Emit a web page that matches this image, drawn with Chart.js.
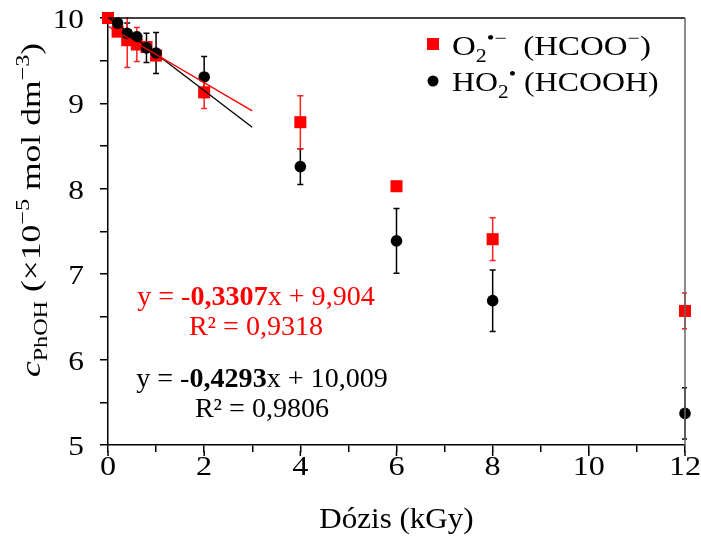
<!DOCTYPE html>
<html>
<head>
<meta charset="utf-8">
<script src="https://cdn.jsdelivr.net/npm/chart.js@4.4.1/dist/chart.umd.min.js"></script>
<style>
  html, body { margin: 0; padding: 0; background: #fff; }
  #wrap { width: 701px; height: 537px; position: relative; }
</style>
</head>
<body>
<div id="wrap"><canvas id="chart"></canvas></div>
<script>
// O2•− (HCOO−) series
const doseRed = [0, 0.2, 0.4, 0.6, 0.8, 1, 2, 4, 6, 8, 12];
const concRed = [10.0, 9.84, 9.74, 9.69, 9.66, 9.56, 9.13, 8.78, 8.03, 7.41, 6.57];
const errRed = [0, 0.04, 0.32, 0.2, 0.05, 0.05, 0.19, 0.31, 0.03, 0.25, 0.21];

// HO2• (HCOOH) series
const doseBlack = [0.2, 0.4, 0.6, 0.8, 1, 2, 4, 6, 8, 12];
const concBlack = [9.94, 9.82, 9.78, 9.65, 9.59, 9.31, 8.26, 7.39, 6.69, 5.37];
const errBlack = [0.03, 0.12, 0.05, 0.17, 0.24, 0.24, 0.21, 0.38, 0.36, 0.30];

// linear fits shown on the chart, drawn over 0..3 kGy
const fitRed = { slope: -0.3307, intercept: 9.904 };
const fitBlack = { slope: -0.4293, intercept: 10.009 };
const fitRange = [0, 3];

// axis ticks
const xTickLabels = [0, 2, 4, 6, 8, 10, 12];
const yTickLabels = [5, 6, 7, 8, 9, 10];

const SERIF = '"Liberation Serif", "Times New Roman", serif';

function fitLine(fit) {
  return fitRange.map(x => ({ x, y: fit.slope * x + fit.intercept }));
}

// text pieces (sizes / offsets) on one baseline, stretched sideways by sx
function partFont(p) {
  return (p.italic ? 'italic ' : '') + (p.bold ? 'bold ' : '') + p.size + 'px ' + SERIF;
}
function richWidth(ctx, parts) {
  let w = 0;
  parts.forEach(p => { ctx.font = partFont(p); w += ctx.measureText(p.t).width; });
  return w;
}
function drawRich(ctx, parts, x, y, align, color, sx = 1) {
  const w = richWidth(ctx, parts) * sx;
  let start = x;
  if (align === 'center') start = x - w / 2;
  if (align === 'right') start = x - w;
  ctx.save();
  ctx.translate(start, y);
  ctx.scale(sx, 1);
  ctx.textAlign = 'left';
  ctx.textBaseline = 'alphabetic';
  let cx = 0;
  parts.forEach(p => {
    ctx.font = partFont(p);
    ctx.fillStyle = p.color || color;
    ctx.fillText(p.t, cx, p.dy || 0);
    cx += ctx.measureText(p.t).width;
  });
  ctx.restore();
}

const errorBars = {
  id: 'errorBars',
  beforeDatasetsDraw(chart) {
    const ctx = chart.ctx;
    const ys = chart.scales.y;
    const area = chart.chartArea;
    ctx.save();
    ctx.beginPath();
    ctx.rect(area.left, area.top - 1, area.right - area.left + 2, area.bottom - area.top + 2);
    ctx.clip();
    chart.data.datasets.forEach((ds, i) => {
      if (!ds.errors) return;
      const meta = chart.getDatasetMeta(i);
      ctx.strokeStyle = ds.errColor;
      ctx.lineWidth = 1.5;
      meta.data.forEach((pt, j) => {
        const e = ds.errors[j];
        if (!e) return;
        const v = ds.data[j].y;
        const top = ys.getPixelForValue(v + e);
        const bot = ys.getPixelForValue(v - e);
        ctx.beginPath();
        ctx.moveTo(pt.x, top); ctx.lineTo(pt.x, bot);
        ctx.moveTo(pt.x - 3, top); ctx.lineTo(pt.x + 3, top);
        ctx.moveTo(pt.x - 3, bot); ctx.lineTo(pt.x + 3, bot);
        ctx.stroke();
      });
    });
    ctx.restore();
  }
};

const decorations = {
  id: 'decorations',
  afterDraw(chart) {
    const ctx = chart.ctx;
    const a = chart.chartArea;
    const xs = chart.scales.x;
    const ys = chart.scales.y;
    ctx.save();
    // frame: top and right edges
    ctx.lineWidth = 1.5;
    ctx.strokeStyle = '#000';
    ctx.beginPath();
    ctx.moveTo(a.left, a.top); ctx.lineTo(a.right, a.top);
    ctx.stroke();
    ctx.strokeStyle = '#666';
    ctx.beginPath();
    ctx.moveTo(a.right, a.top); ctx.lineTo(a.right, a.bottom);
    ctx.stroke();

    // longer major ticks on x
    ctx.strokeStyle = '#000';
    ctx.beginPath();
    xTickLabels.forEach(v => {
      const px = xs.getPixelForValue(v);
      ctx.moveTo(px, a.bottom + 6); ctx.lineTo(px, a.bottom + 11);
    });
    ctx.stroke();

    // tick labels
    xTickLabels.forEach(v => {
      drawRich(ctx, [{ t: String(v), size: 28 }], xs.getPixelForValue(v), a.bottom + 30, 'center', '#000', 1.15);
    });
    yTickLabels.forEach(v => {
      drawRich(ctx, [{ t: String(v), size: 28 }], 84, ys.getPixelForValue(v) + 10, 'right', '#000', 1.12);
    });

    // axis titles
    drawRich(ctx, [{ t: 'Dózis (kGy)', size: 29 }], (a.left + a.right) / 2, 528, 'center', '#000', 1.07);
    ctx.save();
    ctx.translate(40, 210);
    ctx.rotate(-Math.PI / 2);
    drawRich(ctx, [
      { t: 'c', size: 28, italic: true },
      { t: 'PhOH', size: 19, dy: 7 },
      { t: ' (×10', size: 28 },
      { t: '−5', size: 19, dy: -11 },
      { t: ' mol dm', size: 28 },
      { t: '−3', size: 19, dy: -11 },
      { t: ')', size: 28 }
    ], 0, 0, 'center', '#000', 1.27);
    ctx.restore();

    // legend
    ctx.fillStyle = '#ff0000';
    ctx.fillRect(427, 38, 12, 12);
    ctx.fillStyle = '#000';
    ctx.beginPath();
    ctx.arc(433, 81, 5.5, 0, Math.PI * 2);
    ctx.fill();
    drawRich(ctx, [
      { t: 'O', size: 27 },
      { t: '2', size: 18, dy: 7 },
      { t: '•−', size: 18, dy: -11 },
      { t: '  (HCOO', size: 27 },
      { t: '−', size: 18, dy: -11 },
      { t: ')', size: 27 }
    ], 452, 55, 'left', '#000', 1.22);
    drawRich(ctx, [
      { t: 'HO', size: 27 },
      { t: '2', size: 18, dy: 7 },
      { t: '•', size: 18, dy: -11 },
      { t: ' (HCOOH)', size: 27 }
    ], 452, 91, 'left', '#000', 1.18);

    // fit equations
    drawRich(ctx, [
      { t: 'y = -', size: 27 },
      { t: '0,3307', size: 27, bold: true },
      { t: 'x + 9,904', size: 27 }
    ], 256, 305, 'center', '#ff0000', 1.04);
    drawRich(ctx, [{ t: 'R² = 0,9318', size: 27 }], 256, 335, 'center', '#ff0000', 1.04);
    drawRich(ctx, [
      { t: 'y = -', size: 27 },
      { t: '0,4293', size: 27, bold: true },
      { t: 'x + 10,009', size: 27 }
    ], 262, 387, 'center', '#000', 1.04);
    drawRich(ctx, [{ t: 'R² = 0,9806', size: 27 }], 262, 417, 'center', '#000', 1.04);
    ctx.restore();
  }
};

new Chart(document.getElementById('chart'), {
  type: 'scatter',
  data: {
    datasets: [
      {
        type: 'line', data: fitLine(fitRed), borderColor: '#ff0000', borderWidth: 1.3,
        pointRadius: 0, fill: false
      },
      {
        type: 'line', data: fitLine(fitBlack), borderColor: '#000', borderWidth: 1.3,
        pointRadius: 0, fill: false
      },
      {
        data: doseBlack.map((x, i) => ({ x, y: concBlack[i] })),
        errors: errBlack, errColor: '#000', clip: false,
        pointStyle: 'circle', pointRadius: 5.8, backgroundColor: '#000', borderColor: '#000', borderWidth: 0
      },
      {
        data: doseRed.map((x, i) => ({ x, y: concRed[i] })),
        errors: errRed, errColor: '#ff2020', clip: false,
        pointStyle: 'rect', pointRadius: 8.5, backgroundColor: '#ff0000', borderColor: '#ff0000', borderWidth: 0
      }
    ]
  },
  options: {
    responsive: true,
    maintainAspectRatio: false,
    animation: false,
    layout: { padding: { top: 18, right: 16, left: 0, bottom: 2 } },
    plugins: { legend: { display: false }, tooltip: { enabled: false } },
    scales: {
      x: {
        type: 'linear', min: 0, max: 12,
        border: { display: true, color: '#000', width: 1.5 },
        grid: { drawOnChartArea: false, tickLength: 7, color: '#000', lineWidth: 1.5 },
        ticks: { stepSize: 1, display: false },
        afterFit: s => { s.height = 90; }
      },
      y: {
        type: 'linear', min: 5, max: 10,
        border: { display: true, color: '#000', width: 1.5 },
        grid: { drawOnChartArea: false, tickLength: 8, color: '#000', lineWidth: 1.5 },
        ticks: { stepSize: 0.5, display: false },
        afterFit: s => { s.width = 108; }
      }
    }
  },
  plugins: [errorBars, decorations]
});
</script>
</body>
</html>
